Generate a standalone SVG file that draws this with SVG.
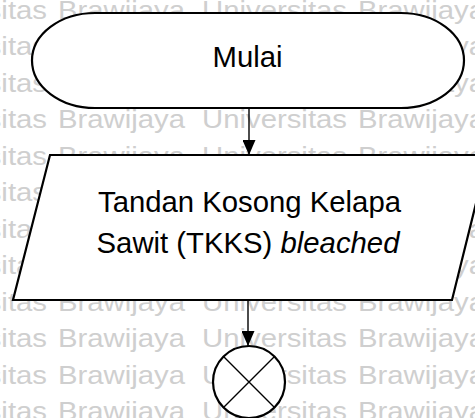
<svg xmlns="http://www.w3.org/2000/svg" width="475" height="418" viewBox="0 0 475 418">
  <style>
    .wm { font-family: "Liberation Sans", Arial, sans-serif; font-size: 26.5px; fill: #cfcfcf; }
    .shape { fill: #ffffff; stroke: #000000; stroke-width: 2.2; }
    .label { font-family: "Liberation Sans", Arial, sans-serif; font-size: 29.3px; fill: #000000; text-anchor: middle; }
    .conn { stroke: #000000; stroke-width: 1.4; fill: none; }
  </style>
  <defs>
    <marker id="arrow" markerUnits="userSpaceOnUse" markerWidth="15" markerHeight="13" refX="15" refY="6.5" orient="auto">
      <path d="M0,0 L15,6.5 L0,13 z" fill="#000000"/>
    </marker>
    <!-- one watermark row, repeated down the page -->
    <g id="wmRow">
      <text class="wm" x="-98" y="0" textLength="145" lengthAdjust="spacingAndGlyphs">Universitas</text>
      <text class="wm" x="58" y="0" textLength="127" lengthAdjust="spacingAndGlyphs">Brawijaya</text>
      <text class="wm" x="202" y="0" textLength="145" lengthAdjust="spacingAndGlyphs">Universitas</text>
      <text class="wm" x="358" y="0" textLength="127" lengthAdjust="spacingAndGlyphs">Brawijaya</text>
    </g>
  </defs>

  <rect width="475" height="418" fill="#ffffff"/>

  <g id="watermark">
    <use href="#wmRow" y="18.5"/>
    <use href="#wmRow" y="55"/>
    <use href="#wmRow" y="91.5"/>
    <use href="#wmRow" y="128"/>
    <use href="#wmRow" y="164.5"/>
    <use href="#wmRow" y="201"/>
    <use href="#wmRow" y="237.5"/>
    <use href="#wmRow" y="274"/>
    <use href="#wmRow" y="310.5"/>
    <use href="#wmRow" y="347"/>
    <use href="#wmRow" y="383.5"/>
    <use href="#wmRow" y="420"/>
  </g>

  <g id="connectors">
    <line class="conn" x1="249" y1="108" x2="249" y2="155" marker-end="url(#arrow)"/>
    <line class="conn" x1="248" y1="300" x2="248" y2="346" marker-end="url(#arrow)"/>
  </g>

  <g id="start">
    <rect class="shape" x="32" y="13" width="432" height="95" rx="63" ry="47.5"/>
    <text class="label" x="247.5" y="67">Mulai</text>
  </g>

  <g id="input">
    <polygon class="shape" points="50,155 488,155 452,300 13,300"/>
    <text class="label" x="249.5" y="212">Tandan Kosong Kelapa</text>
    <text class="label" x="248" y="253">Sawit (TKKS) <tspan font-style="italic">bleached</tspan></text>
  </g>

  <g id="connector-point">
    <circle class="shape" cx="249" cy="382" r="36"/>
    <path class="conn" stroke-width="2.2" d="M223.5,356.5 L274.5,407.5 M274.5,356.5 L223.5,407.5"/>
  </g>
</svg>
